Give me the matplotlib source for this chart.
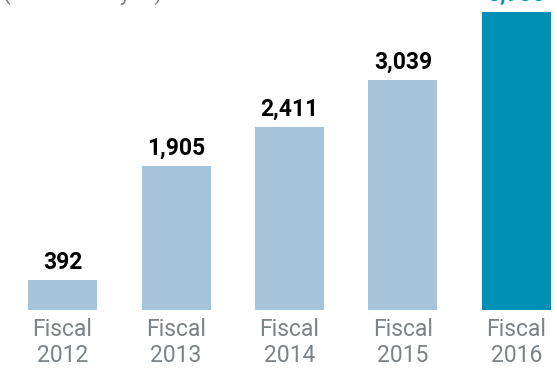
import matplotlib
matplotlib.use("Agg")
import matplotlib.pyplot as plt

# Fiscal year revenue (millions of yen)
years = ["2012", "2013", "2014", "2015", "2016"]
values = [392, 1905, 2411, 3039, 3938]
value_labels = ["392", "1,905", "2,411", "3,039", "3,938"]

light = "#a5c4d9"
teal = "#0090b5"
grey = "#7b8388"

plt.rcParams["font.family"] = ["Roboto", "DejaVu Sans"]

fig = plt.figure(figsize=(5.57, 3.68), dpi=100)
ax = fig.add_axes([0, 58 / 368, 1, 310 / 368])

colors = [light] * (len(values) - 1) + [teal]
x = range(len(values))
bars = ax.bar(x, values, width=0.608, color=colors)

for b, lab, c in zip(bars, value_labels, ["black"] * 4 + [teal]):
    ax.annotate(lab, (b.get_x() + b.get_width() / 2, b.get_height()),
                xytext=(0, 4.5), textcoords="offset points",
                ha="center", va="bottom", fontsize=16.5, fontweight="bold",
                color=c)

ax.set_xlim(-0.551, 4.357)
ax.set_ylim(0, 4095)
ax.set_xticks(list(x))
ax.set_xticklabels(["Fiscal\n" + y for y in years], fontsize=16.5,
                   color=grey, linespacing=1.2)
ax.tick_params(axis="x", length=0, pad=5.5)
ax.set_yticks([])
for s in ax.spines.values():
    s.set_visible(False)

# unit caption, sitting right at the top edge
fig.text(0.005, 1.0, "(Millions of yen)", fontsize=16, color=grey,
         ha="left", va="baseline")

fig.savefig("out.png", dpi=100)
